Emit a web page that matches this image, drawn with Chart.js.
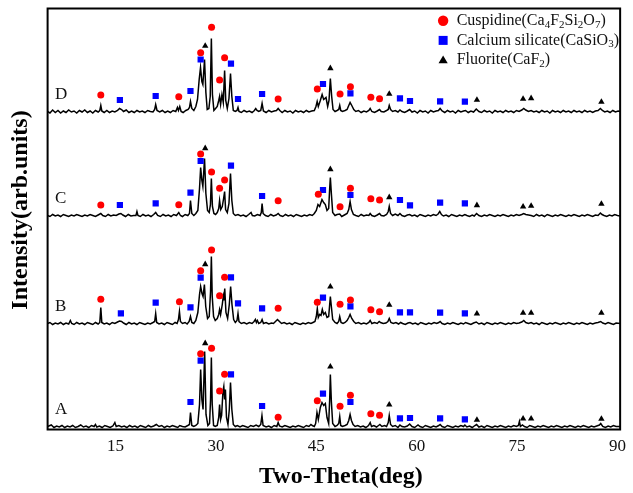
<!DOCTYPE html>
<html>
<head>
<meta charset="utf-8">
<title>XRD patterns</title>
<script src="https://cdn.jsdelivr.net/npm/chart.js@4.4.1/dist/chart.umd.min.js"></script>
<style>
  html, body { margin: 0; padding: 0; background: #fff; }
  canvas { display: block; }
</style>
</head>
<body>
<canvas id="xrd" width="633" height="493"></canvas>
<script>
// Samples, bottom to top, and the vertical offset each pattern is stacked at
const samples = ["A", "B", "C", "D"]
const offsets = [0, 103, 211, 315]
const tickValues = [15, 30, 45, 60, 75, 90]

// [2-theta, intensity] for each sample
const patternA = [[4.85,3],[5.4,4.5],[5.8,2],[6.2,3.5],[6.6,2.5],[7.0,4],[7.4,2],[7.8,3.5],[8.2,2.5],[8.6,4],[9.0,2],[9.4,3],[9.8,4.5],[10.2,2.5],[10.6,3.5],[11.0,2],[11.4,4],[11.8,3],[12.0,5],[12.2,2.5],[12.6,3.5],[13.0,2],[13.4,4],[13.8,3],[14.2,2],[14.6,3.5],[14.9,7],[15.1,3],[15.5,4],[15.9,2.5],[16.3,3.5],[16.7,2],[17.1,4],[17.5,2.5],[17.9,3.5],[18.3,2],[18.7,4],[19.1,3],[19.5,2],[19.9,4],[20.3,2.5],[20.7,3.5],[21.1,5],[21.5,3],[21.9,4],[22.3,2],[22.7,3.5],[23.1,2.5],[23.5,4],[23.9,3],[24.3,2],[24.6,4],[25.0,3],[25.4,2.5],[25.8,4],[26.05,5],[26.2,17],[26.4,4],[26.7,3],[27.0,4],[27.3,6],[27.55,25],[27.72,60],[27.9,30],[28.08,20],[28.32,78],[28.52,15],[28.8,4],[29.05,6],[29.2,30],[29.32,72],[29.45,25],[29.65,4],[29.9,3],[30.2,4],[30.42,12],[30.55,25],[30.7,10],[30.85,14],[31.05,38],[31.18,43],[31.3,30],[31.42,40],[31.58,12],[31.8,5],[32.0,20],[32.18,47],[32.38,20],[32.6,5],[32.9,3],[33.2,4],[33.6,2.5],[34.0,4],[34.4,3],[34.8,2],[35.2,4],[35.6,3],[36.0,4.5],[36.4,3],[36.7,5],[36.88,14],[37.05,4],[37.5,2.5],[37.9,3.5],[38.3,2],[38.7,4],[39.1,3],[39.3,7],[39.5,3.5],[39.9,2.5],[40.3,4],[40.7,3],[41.1,2],[41.5,3.5],[41.9,2.5],[42.3,4],[42.7,3],[43.1,2],[43.5,4],[43.9,3],[44.2,5],[44.4,4],[44.7,3],[44.9,6],[45.1,17],[45.3,10],[45.6,22],[45.85,27],[46.1,24],[46.35,26],[46.6,12],[46.85,6],[47.0,30],[47.1,55],[47.25,28],[47.45,6],[47.8,3],[48.1,4],[48.35,6],[48.5,13],[48.65,4],[48.9,3],[49.3,4],[49.6,5],[49.85,9],[50.05,15],[50.25,9],[50.5,5],[50.8,3],[51.2,4],[51.6,2.5],[52.0,3.5],[52.4,2],[52.8,4],[53.05,7],[53.25,3],[53.6,4],[54.0,2.5],[54.3,4],[54.5,5],[54.8,3],[55.2,4],[55.5,3],[55.75,7],[55.9,14],[56.1,5],[56.4,3],[56.8,4],[57.2,2],[57.5,4.5],[57.8,3],[58.2,2.5],[58.6,3.5],[58.95,5.5],[59.3,3],[59.7,2],[60.2,4.5],[60.5,3],[60.9,2],[61.3,4],[61.7,3],[62.1,2],[62.5,3.5],[62.9,2.5],[63.3,4],[63.5,5],[63.8,3],[64.2,2],[64.6,4],[65.0,3],[65.4,2],[65.8,3.5],[66.2,2.5],[66.6,4],[67.0,3],[67.2,4.5],[67.5,2.5],[67.9,3.5],[68.3,2],[68.7,4],[68.95,5],[69.3,2.5],[69.7,3.5],[70.1,2],[70.5,4],[70.9,3],[71.3,2],[71.7,3.5],[72.1,2.5],[72.5,4],[72.9,3],[73.3,2],[73.7,3.5],[74.1,2.5],[74.5,4],[74.9,3],[75.2,4],[75.35,8],[75.5,3],[75.8,4.5],[76.1,3],[76.5,2],[76.9,4],[77.3,3],[77.7,2],[78.1,3.5],[78.5,2.5],[78.9,4],[79.3,3],[79.7,2],[80.1,3.5],[80.5,2.5],[80.9,4],[81.3,3],[81.7,2],[82.1,3.5],[82.5,2.5],[82.9,4],[83.3,3],[83.7,2],[84.1,3.5],[84.5,2.5],[84.9,4],[85.3,3],[85.7,2],[86.1,3.5],[86.5,2.5],[86.9,3.5],[87.3,4.5],[87.5,6],[87.8,3],[88.2,2],[88.6,3.5],[89.0,2.5],[89.4,4],[89.8,3],[90.4,3]]

const patternB = [[4.85,3],[5.2,4],[5.6,2],[6.0,3.5],[6.4,2.5],[6.8,4],[7.2,2],[7.6,3.5],[8.0,2.5],[8.25,6],[8.45,3],[8.8,2],[9.2,4],[9.6,2.5],[10.0,3.5],[10.4,2],[10.8,4],[11.2,3],[11.6,2],[12.0,4],[12.4,2.5],[12.65,4],[12.8,19],[12.95,4],[13.3,2.5],[13.7,3.5],[14.1,2],[14.5,4],[14.9,3],[15.3,4.5],[15.6,5.5],[15.9,5],[16.2,3.5],[16.6,2],[17.0,4],[17.4,2.5],[17.8,3.5],[18.2,2],[18.6,4],[19.0,3],[19.4,2],[19.8,3.5],[20.2,2.5],[20.6,4],[20.85,5],[21.0,13],[21.15,4],[21.5,2.5],[21.9,3.5],[22.3,2],[22.7,4],[23.1,3],[23.5,2],[23.9,4],[24.2,3],[24.4,7],[24.55,15],[24.7,5],[25.0,3],[25.4,4],[25.7,2.5],[26.0,5],[26.2,10],[26.4,4],[26.7,3],[27.0,6],[27.3,14],[27.55,32],[27.72,40],[27.92,33],[28.08,30],[28.28,42],[28.48,20],[28.75,8],[29.0,10],[29.2,35],[29.32,70],[29.45,30],[29.65,10],[29.9,6],[30.2,8],[30.42,12],[30.55,17],[30.7,12],[30.95,22],[31.1,30],[31.2,26],[31.32,38],[31.5,14],[31.75,8],[32.0,22],[32.2,40],[32.4,22],[32.65,7],[32.9,4],[33.15,6],[33.3,13],[33.45,5],[33.8,3],[34.2,4],[34.6,2.5],[35.0,4],[35.4,3],[35.7,5],[35.9,7],[36.05,4],[36.2,6],[36.4,3],[36.7,4],[36.9,7],[37.1,3],[37.5,4],[37.9,2.5],[38.3,3.5],[38.6,3],[38.9,5],[39.2,7],[39.5,5],[39.8,3],[40.2,4],[40.6,2.5],[41.0,3.5],[41.4,2],[41.8,4],[42.2,3],[42.6,2],[43.0,3.5],[43.4,2.5],[43.8,4],[44.2,3],[44.5,4],[44.8,5],[45.0,10],[45.15,18],[45.3,9],[45.5,12],[45.7,11],[45.9,17],[46.1,12],[46.35,14],[46.6,9],[46.85,10],[47.0,22],[47.1,30],[47.25,20],[47.45,7],[47.8,4],[48.1,3],[48.35,5],[48.5,10],[48.7,4],[49.0,3],[49.3,4],[49.6,6],[49.85,9],[50.05,12],[50.3,8],[50.6,5],[50.9,3],[51.3,4],[51.7,2.5],[52.1,3.5],[52.5,2.5],[52.85,4],[53.05,6],[53.3,3],[53.7,4],[54.1,3],[54.4,5],[54.6,4],[55.0,3],[55.4,3.5],[55.7,5],[55.9,8],[56.15,4],[56.5,3],[56.9,4],[57.3,2.5],[57.6,4],[57.9,3],[58.3,2],[58.7,3.5],[59.0,4],[59.4,2.5],[59.8,3.5],[60.2,2],[60.6,4],[61.0,3],[61.4,2],[61.8,3.5],[62.2,2.5],[62.6,4],[63.0,3],[63.3,4],[63.5,5],[63.8,3],[64.2,2],[64.6,3.5],[65.0,2.5],[65.4,4],[65.8,3],[66.2,2],[66.6,3.5],[67.0,2.5],[67.3,4],[67.7,3],[68.1,2],[68.5,3.5],[68.9,4.5],[69.3,2.5],[69.7,3.5],[70.1,2],[70.5,4],[70.9,3],[71.3,2],[71.7,3.5],[72.1,2.5],[72.5,4],[72.9,3],[73.3,2],[73.7,3.5],[74.1,2.5],[74.5,4],[74.9,3],[75.3,3.5],[75.7,4.5],[76.0,6],[76.3,4],[76.7,3],[77.1,4],[77.5,2.5],[77.9,3.5],[78.3,2],[78.7,4],[79.1,3],[79.5,2],[79.9,3.5],[80.3,2.5],[80.7,4],[81.1,3],[81.5,2],[81.9,3.5],[82.3,2.5],[82.7,4],[83.1,3],[83.5,2],[83.9,3.5],[84.3,2.5],[84.7,4],[85.1,3],[85.5,2],[85.9,3.5],[86.3,2.5],[86.7,3.5],[87.1,4],[87.5,5],[87.8,3.5],[88.2,2.5],[88.6,4],[89.0,3],[89.4,2],[89.8,3.5],[90.4,3]]

const patternC = [[4.85,3],[5.2,2],[5.6,4],[6.0,2.5],[6.4,3.5],[6.8,2],[7.2,4],[7.6,3],[8.0,2],[8.4,3.5],[8.8,2.5],[9.2,4],[9.6,3],[10.0,2],[10.4,3.5],[10.8,2.5],[11.2,4],[11.6,3],[12.0,2],[12.4,3.5],[12.8,5],[13.1,3],[13.5,2],[13.9,4],[14.3,2.5],[14.7,3.5],[15.1,3],[15.5,4.5],[15.8,5],[16.1,3.5],[16.5,2],[16.9,4],[17.3,2.5],[17.7,3],[18.05,3],[18.2,7],[18.35,3],[18.7,2],[19.1,4],[19.5,2.5],[19.9,3.5],[20.3,2],[20.7,4],[21.0,6],[21.3,3],[21.7,2],[22.1,4],[22.5,2.5],[22.9,3.5],[23.3,2],[23.7,4],[24.1,3],[24.45,6],[24.7,3],[25.0,2],[25.4,4],[25.8,3],[26.05,5],[26.2,18],[26.4,5],[26.7,3],[27.0,5],[27.3,8],[27.55,30],[27.72,51],[27.9,38],[28.05,32],[28.3,60],[28.5,25],[28.75,8],[29.0,6],[29.18,14],[29.32,40],[29.48,12],[29.7,5],[29.95,4],[30.2,6],[30.42,10],[30.55,18],[30.72,9],[30.95,12],[31.15,20],[31.3,27],[31.45,9],[31.7,6],[31.95,15],[32.18,45],[32.38,18],[32.6,5],[32.9,3],[33.3,4],[33.7,2.5],[34.1,3.5],[34.5,2],[34.9,4],[35.25,6],[35.45,3],[35.8,2.5],[36.2,4],[36.6,3],[36.78,6],[36.9,15],[37.05,5],[37.4,3],[37.8,2],[38.2,4],[38.6,2.5],[39.0,3.5],[39.3,5],[39.6,3],[40.0,2],[40.4,4],[40.8,2.5],[41.2,3.5],[41.6,2],[42.0,4],[42.4,3],[42.8,2],[43.2,3.5],[43.6,2.5],[44.0,4],[44.4,3],[44.7,5],[45.0,8],[45.25,14],[45.5,12],[45.85,19],[46.1,16],[46.35,14],[46.6,8],[46.85,10],[47.0,30],[47.1,41],[47.25,25],[47.45,6],[47.8,3],[48.1,4],[48.5,4.5],[48.8,2],[49.2,3.5],[49.6,5],[49.85,9],[50.05,17],[50.25,9],[50.55,4],[50.9,3],[51.3,2],[51.7,4],[52.1,2.5],[52.5,3.5],[52.85,3],[53.05,5],[53.3,3],[53.7,2],[54.1,3.5],[54.45,5],[54.7,3],[55.1,2.5],[55.5,4],[55.75,7],[55.9,12],[56.1,5],[56.4,3],[56.8,4.5],[57.2,3],[57.5,5],[57.8,3],[58.2,2],[58.6,3.5],[58.95,4],[59.3,2.5],[59.7,3.5],[60.1,2],[60.5,4],[60.9,3],[61.3,2],[61.7,3.5],[62.1,2.5],[62.5,4],[62.9,3],[63.2,4.5],[63.45,7],[63.7,4],[64.0,2.5],[64.4,3.5],[64.8,2],[65.2,4],[65.6,3],[66.0,2],[66.4,3.5],[66.8,2.5],[67.2,4],[67.5,3],[67.9,2],[68.3,3.5],[68.6,2.5],[68.95,5],[69.3,3],[69.7,2],[70.1,3.5],[70.5,2.5],[70.9,4],[71.3,3],[71.7,2],[72.1,3.5],[72.5,2.5],[72.9,4],[73.3,3],[73.7,2],[74.1,3.5],[74.5,2.5],[74.9,4],[75.3,3],[75.7,4],[76.0,5],[76.3,4],[76.7,3.5],[77.1,3],[77.5,2],[77.9,4],[78.3,2.5],[78.7,3.5],[79.1,2],[79.5,4],[79.9,3],[80.3,2],[80.7,3.5],[81.1,2.5],[81.5,4],[81.9,3],[82.3,2],[82.7,3.5],[83.1,2.5],[83.5,4],[83.9,3],[84.3,2],[84.7,3.5],[85.1,2.5],[85.5,4],[85.9,3],[86.3,2],[86.7,3.5],[87.1,3],[87.45,5.5],[87.7,4],[88.0,3],[88.4,2],[88.8,3.5],[89.2,2.5],[89.6,4],[90.0,3],[90.4,2.5]]

const patternD = [[4.85,3],[5.2,1.5],[5.6,4.5],[6.0,2],[6.4,4],[6.8,1.5],[7.2,3.5],[7.6,2],[8.0,4.5],[8.4,2.5],[8.8,3.5],[9.2,1.5],[9.6,4],[10.0,2.5],[10.4,4.5],[10.8,2],[11.2,3.5],[11.6,1.5],[12.0,4],[12.4,2.5],[12.65,4],[12.8,9],[12.95,3.5],[13.3,2],[13.7,4],[14.1,2],[14.5,3.5],[14.9,2.5],[15.3,4],[15.6,6],[15.9,5],[16.2,3],[16.6,4.5],[17.0,2],[17.4,3.5],[17.8,2],[18.2,4],[18.6,2.5],[19.0,3.5],[19.4,2],[19.8,4],[20.2,3],[20.6,2.5],[20.85,5],[21.0,10],[21.2,4],[21.6,2.5],[22.0,4],[22.4,2],[22.8,3.5],[23.2,2],[23.6,4],[24.0,3],[24.25,7],[24.4,4],[24.6,8],[24.8,3],[25.1,2],[25.5,4],[25.85,5],[26.05,7],[26.2,13],[26.4,6],[26.7,4],[27.0,8],[27.25,15],[27.5,35],[27.7,47],[27.9,33],[28.05,30],[28.3,55],[28.5,22],[28.7,5],[28.95,6],[29.15,18],[29.32,76],[29.48,20],[29.7,4],[29.95,6],[30.2,8],[30.42,14],[30.55,18],[30.7,10],[30.9,20],[31.1,12],[31.3,44],[31.47,14],[31.7,6],[31.95,16],[32.18,41],[32.38,18],[32.6,4],[32.9,3],[33.15,4],[33.3,7],[33.45,3],[33.8,2],[34.2,4],[34.6,2.5],[35.0,3.5],[35.4,2],[35.75,4],[35.95,6],[36.15,4],[36.4,3],[36.7,4],[36.9,11],[37.1,3.5],[37.5,2],[37.9,4],[38.3,2.5],[38.7,3.5],[39.05,4],[39.3,6],[39.55,4],[39.9,2],[40.3,4],[40.7,2.5],[41.1,3.5],[41.5,1.5],[41.9,4],[42.3,2.5],[42.7,3.5],[43.1,2],[43.5,4],[43.9,2.5],[44.3,3.5],[44.7,4],[44.95,8],[45.13,13],[45.3,8],[45.6,14],[45.87,20],[46.1,15],[46.45,17],[46.7,8],[46.9,14],[47.1,36],[47.3,18],[47.5,5],[47.8,3],[48.1,4],[48.35,5],[48.5,9],[48.65,4],[48.9,3],[49.3,4],[49.6,5],[49.85,9],[50.05,12],[50.3,9],[50.6,5],[50.9,3],[51.3,4],[51.7,2],[52.1,3.5],[52.5,2.5],[52.85,4],[53.05,6],[53.3,3],[53.7,2],[54.1,3.5],[54.45,5],[54.7,3],[55.1,2.5],[55.5,4],[55.75,5],[55.9,9],[56.1,5],[56.4,3],[56.8,4],[57.2,2.5],[57.5,4.5],[57.8,3],[58.2,2],[58.6,3.5],[58.95,5],[59.3,2.5],[59.7,3.5],[60.1,1.5],[60.5,4],[60.9,2.5],[61.3,3.5],[61.7,1.5],[62.1,4],[62.5,2.5],[62.9,3.5],[63.25,4],[63.5,6],[63.8,3.5],[64.2,2],[64.6,4],[65.0,2.5],[65.4,3.5],[65.8,1.5],[66.2,4],[66.6,2.5],[67.0,3.5],[67.3,4],[67.7,2],[68.1,3.5],[68.5,2.5],[68.9,5.5],[69.3,3],[69.7,2],[70.1,4],[70.5,2.5],[70.9,3.5],[71.3,1.5],[71.7,4],[72.1,2.5],[72.5,3.5],[72.9,2],[73.3,4],[73.7,2.5],[74.1,3.5],[74.5,2],[74.9,4],[75.3,3],[75.7,4.5],[76.0,6],[76.3,4.5],[76.7,3],[77.1,4],[77.5,2.5],[77.9,3.5],[78.3,2],[78.7,4],[79.1,2.5],[79.5,3.5],[79.9,1.5],[80.3,4],[80.7,2.5],[81.1,3.5],[81.5,2],[81.9,4],[82.3,2.5],[82.7,3.5],[83.1,2],[83.5,4],[83.9,2.5],[84.3,3.5],[84.7,2],[85.1,4],[85.5,2.5],[85.9,3.5],[86.3,2],[86.7,3.5],[87.1,4],[87.45,6],[87.75,4],[88.1,2.5],[88.5,3.5],[88.9,2],[89.3,4],[89.7,2.5],[90.1,3.5],[90.4,3]]

const patterns = [patternA, patternB, patternC, patternD]

// Phase markers: [sample index, 2-theta, height above that sample's offset]
const cuspidine = [
  [0,27.72,75.8],[0,29.35,81.2],[0,30.55,38.5],[0,31.3,55.2],[0,39.3,12.2],[0,45.15,28.8],[0,48.55,23.2],[0,50.1,34.2],[0,53.15,15.8],[0,54.45,14.2],
  [1,12.8,27.2],[1,24.55,24.8],[1,27.72,55.8],[1,29.35,76.5],[1,30.55,30.8],[1,31.3,49.2],[1,39.3,18.2],[1,45.15,24.2],[1,48.55,22.2],[1,50.1,26.5],[1,53.15,16.8],[1,54.45,14.8],
  [2,12.8,13.5],[2,24.45,13.8],[2,27.72,64.5],[2,29.35,46.5],[2,30.55,30.2],[2,31.3,38.5],[2,39.3,17.8],[2,45.3,24.2],[2,48.55,11.8],[2,50.1,30.2],[2,53.15,19.8],[2,54.45,18.5],
  [3,12.8,19.5],[3,24.45,17.8],[3,27.72,61.8],[3,29.35,87.2],[3,30.55,34.5],[3,31.3,56.8],[3,39.3,15.5],[3,45.15,25.5],[3,48.55,20.5],[3,50.1,27.8],[3,53.15,17.2],[3,54.45,15.8]
]
const calciumSilicate = [
  [0,26.2,27.5],[0,27.72,68.8],[0,32.25,55.2],[0,36.9,23.5],[0,46.0,35.8],[0,50.1,27.5],[0,57.5,11.2],[0,59.0,11.5],[0,63.5,11.2],[0,67.2,10.2],
  [1,15.8,13.2],[1,21.0,23.8],[1,26.2,19.2],[1,27.72,48.8],[1,32.25,49.2],[1,33.3,23.2],[1,36.9,18.2],[1,46.0,28.8],[1,50.1,20.2],[1,57.5,14.2],[1,59.0,14.2],[1,63.5,13.8],[1,67.2,13.2],
  [2,15.65,13.5],[2,21.0,15.2],[2,26.2,25.8],[2,27.72,57.5],[2,32.25,52.8],[2,36.9,22.5],[2,46.0,28.5],[2,50.1,23.5],[2,57.5,18.5],[2,59.0,13.2],[2,63.5,15.8],[2,67.2,15.2],
  [3,15.65,14.5],[3,21.0,18.5],[3,26.2,23.5],[3,27.72,55],[3,32.25,50.8],[3,33.3,15.5],[3,36.9,20.5],[3,46.0,30.5],[3,50.1,21.2],[3,57.5,16.2],[3,59.0,13.5],[3,63.5,13.2],[3,67.2,12.8]
]
const fluorite = [
  [0,28.4,86.2],[0,47.1,62.8],[0,55.9,24.8],[0,69.0,9.5],[0,75.9,10.8],[0,77.1,10.8],[0,87.6,10.5],
  [1,28.4,62.2],[1,47.1,39.8],[1,55.9,21.5],[1,69.0,12.8],[1,75.9,13.5],[1,77.1,13.5],[1,87.6,13.5],
  [2,28.4,70.2],[2,47.1,49.2],[2,55.9,21.2],[2,69.0,13.2],[2,75.9,11.8],[2,77.1,12.5],[2,87.6,14.5],
  [3,28.4,68.5],[3,47.1,46.2],[3,55.9,20.5],[3,69.0,14.5],[3,75.9,15.5],[3,77.1,16.2],[3,87.6,12.5]
]

const phaseLabels = ["Cuspidine(Ca_4F_2Si_2O_7)", "Calcium silicate(CaSiO_3)", "Fluorite(CaF_2)"]

const SERIF = '"Liberation Serif", "Times New Roman", Times, serif'
const RED = "#ff0000"
const BLUE = "#0000ff"

const phases = [
  {data: cuspidine, style: "circle", color: RED, radius: 3.5},
  {data: calciumSilicate, style: "rect", color: BLUE, radius: 4.4},
  {data: fluorite, style: "triangle", color: "#000", radius: 3.7}
]

const lineSets = patterns.map((p, i) => ({
  label: samples[i],
  data: p.map(([t, v]) => ({x: t, y: v + offsets[i]})),
  borderColor: "#000",
  borderWidth: 1.5,
  pointRadius: 0,
  tension: 0,
  order: 2
}))

const markerSets = phases.map((ph, k) => ({
  label: phaseLabels[k],
  data: ph.data.map(([s, t, h]) => ({x: t, y: h + offsets[s]})),
  showLine: false,
  pointStyle: ph.style,
  pointRadius: ph.radius,
  pointBackgroundColor: ph.color,
  pointBorderWidth: 0,
  order: 1
}))

// text with "_n" marking a subscript digit
function drawRich(ctx, text, x, y, size) {
  let cx = x
  const parts = text.split(/(_\d)/)
  parts.forEach(part => {
    if (!part) return
    if (part[0] === "_") {
      ctx.font = `${Math.round(size * 0.68)}px ${SERIF}`
      ctx.fillText(part[1], cx, y + size * 0.26)
      cx += ctx.measureText(part[1]).width
    } else {
      ctx.font = `${size}px ${SERIF}`
      ctx.fillText(part, cx, y)
      cx += ctx.measureText(part).width
    }
  })
}

function drawSymbol(ctx, style, x, y, color) {
  ctx.fillStyle = color
  ctx.beginPath()
  if (style === "circle") {
    ctx.arc(x, y, 5.2, 0, Math.PI * 2)
  } else if (style === "rect") {
    ctx.rect(x - 4.5, y - 4.5, 9, 9)
  } else {
    ctx.moveTo(x, y - 4.6)
    ctx.lineTo(x + 4.6, y + 3.2)
    ctx.lineTo(x - 4.6, y + 3.2)
    ctx.closePath()
  }
  ctx.fill()
}

const decorations = {
  id: "decorations",
  afterDraw(chart) {
    const {ctx, chartArea: a, scales: {y}} = chart
    ctx.save()

    // frame round the plot
    ctx.strokeStyle = "#000"
    ctx.lineWidth = 2
    ctx.strokeRect(a.left, a.top, a.right - a.left, a.bottom - a.top)

    // sample letters
    ctx.fillStyle = "#111"
    ctx.textAlign = "left"
    ctx.textBaseline = "middle"
    ctx.font = `17px ${SERIF}`
    samples.forEach((s, i) => {
      ctx.fillText(s, a.left + 7.5, y.getPixelForValue(offsets[i] + 19.5))
    })

    // legend, top right inside the frame
    phases.forEach((ph, k) => {
      const ly = a.top + 12.2 + k * 19.7
      drawSymbol(ctx, ph.style, a.right - 177, ly, ph.color)
      ctx.fillStyle = "#111"
      drawRich(ctx, phaseLabels[k], a.right - 163.5, ly, 16)
    })

    // axis titles
    ctx.fillStyle = "#000"
    ctx.textAlign = "center"
    ctx.font = `bold 24px ${SERIF}`
    ctx.fillText("Two-Theta(deg)", (a.left + a.right) / 2 + 7, a.bottom + 47.5)
    ctx.translate(a.left - 26.5, (a.top + a.bottom) / 2 - 9)
    ctx.rotate(-Math.PI / 2)
    ctx.fillText("Intensity(arb.units)", 0, 0)

    ctx.restore()
  }
}

new Chart(document.getElementById("xrd"), {
  type: "line",
  data: {datasets: [...lineSets, ...markerSets]},
  options: {
    responsive: false,
    animation: false,
    devicePixelRatio: 1,
    layout: {padding: {left: 47.6, right: 9.4, top: 8.5, bottom: 0}},
    plugins: {legend: {display: false}, tooltip: {enabled: false}},
    scales: {
      x: {
        type: "linear",
        min: 4.85,
        max: 90.4,
        grid: {display: false, drawTicks: false},
        border: {display: false},
        afterBuildTicks: scale => { scale.ticks = tickValues.map(v => ({value: v})) },
        afterFit: scale => { scale.height = 63.5 },
        ticks: {
          color: "#111",
          padding: 7,
          maxRotation: 0,
          font: {family: SERIF, size: 17}
        }
      },
      y: {
        display: false,
        min: 0,
        max: 421
      }
    }
  },
  plugins: [decorations]
})
</script>
</body>
</html>
